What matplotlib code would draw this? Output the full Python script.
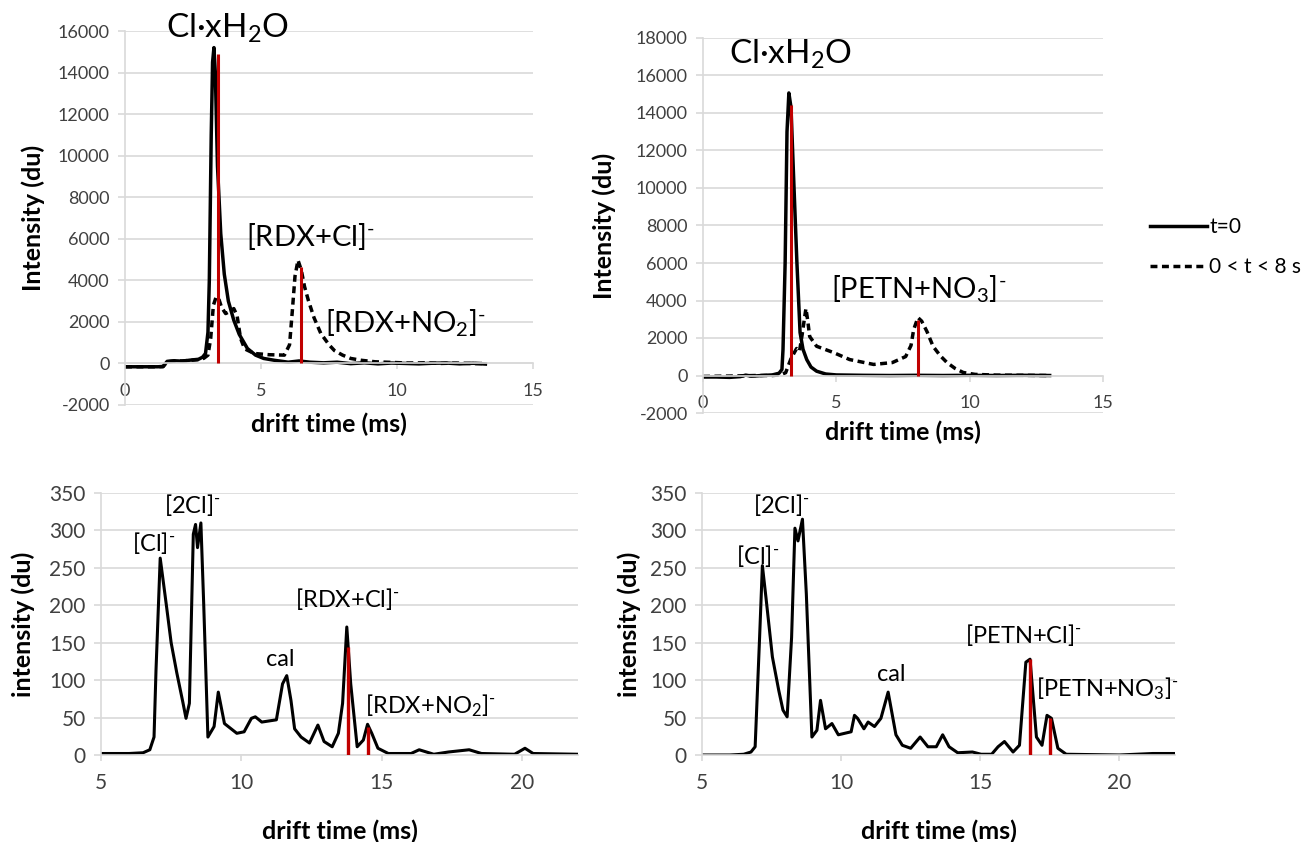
import matplotlib.pyplot as plt
from matplotlib.lines import Line2D

plt.rcParams['font.family'] = ['Lato', 'DejaVu Sans']
plt.rcParams['mathtext.fontset'] = 'custom'
plt.rcParams['mathtext.rm'] = 'Lato'
plt.rcParams['mathtext.it'] = 'Lato:italic'
plt.rcParams['mathtext.bf'] = 'Lato:bold'
plt.rcParams['axes.unicode_minus'] = False

# --- top left: RDX, t=0 vs 0<t<8 s ---
rdx_t0_x = [0, 0.6, 1.2, 1.4, 1.55, 1.8, 2.1, 2.4, 2.7, 2.85, 2.96, 3.05, 3.1, 3.17, 3.22, 3.27,
            3.32, 3.4, 3.52, 3.65, 3.8, 4.0, 4.2, 4.5, 4.8, 5.1, 5.5, 6.0, 6.4, 6.8, 7.3, 7.8,
            8.3, 8.8, 9.3, 9.8, 10.3, 10.8, 11.3, 11.8, 12.3, 12.8, 13.25]
rdx_t0_y = [-160, -160, -160, -150, 100, 130, 110, 160, 200, 300, 480, 1500, 4000, 11000, 14500, 15200,
            14000, 9500, 6250, 4300, 3000, 2080, 1400, 720, 400, 240, 150, 60, 120, 60, 30, 60,
            -10, 30, -20, 20, 0, -20, 10, 20, -20, 10, -30]
rdx_t8_x = [0, 0.6, 1.2, 1.4, 1.55, 1.8, 2.1, 2.4, 2.7, 2.9, 3.05, 3.15, 3.25, 3.35, 3.45, 3.55,
            3.7, 3.85, 4.0, 4.12, 4.25, 4.4, 4.75, 5.3, 5.86, 6.05, 6.15, 6.25, 6.36, 6.48, 6.6,
            6.74, 6.95, 7.2, 7.5, 7.7, 8.0, 8.3, 8.7, 9.2, 9.8, 10.4, 11, 11.6, 12.2, 12.8, 13.25]
rdx_t8_y = [-160, -160, -160, -150, 80, 110, 120, 150, 180, 250, 400, 1200, 2800, 3200, 3100, 2700,
            2400, 2500, 2640, 2300, 1200, 700, 480, 420, 400, 900, 2500, 4200, 4970, 4500, 3700,
            3040, 2200, 1440, 900, 620, 400, 240, 150, 80, 50, 20, 30, 0, 20, -10, 0]
rdx_red_x = [3.42, 6.46]
rdx_red_top = [14900, 4650]

# --- top right: PETN, t=0 vs 0<t<8 s ---
petn_t0_x = [0, 0.5, 1.0, 1.4, 1.6, 1.8, 2.0, 2.3, 2.6, 2.85, 2.96, 3.0, 3.08, 3.15, 3.22, 3.3,
             3.4, 3.52, 3.64, 3.75, 3.89, 4.05, 4.26, 4.6, 5.0, 5.5, 6, 7, 8, 9, 10, 11, 12, 13]
petn_t0_y = [-80, -80, -100, -60, 20, -30, -20, 10, 30, 120, 320, 1380, 6000, 13000, 15070, 14300,
             10500, 6070, 2290, 1400, 850, 450, 230, 80, 30, 20, 10, 0, 10, 0, 10, 0, 10, 0]
petn_t8_x = [0, 1, 2, 2.6, 2.9, 3.1, 3.3, 3.51, 3.62, 3.72, 3.8, 3.86, 3.93, 4.0, 4.26, 4.9, 5.5,
             6.4, 7.1, 7.6, 7.8, 7.9, 8.06, 8.2, 8.4, 8.63, 8.9, 9.15, 9.45, 9.76, 10.2, 11, 12, 13]
petn_t8_y = [-50, -30, 0, 0, 30, 150, 900, 1440, 1300, 2200, 3000, 3570, 2900, 2080, 1560, 1220, 850,
             590, 690, 1010, 1600, 2450, 3090, 2900, 2340, 1550, 1050, 690, 380, 160, 60, 20, 10, 0]
petn_red_x = [3.3, 8.06]
petn_red_top = [14430, 2950]

# --- bottom left: RDX spectrum ---
rdx_sp_x = [5, 6.0, 6.5, 6.74, 6.89, 6.96, 7.11, 7.33, 7.5, 7.7, 7.92, 8.03, 8.15, 8.29, 8.37, 8.44,
            8.56, 8.66, 8.81, 9.03, 9.18, 9.4, 9.84, 10.1, 10.36, 10.5, 10.73, 11.25, 11.47, 11.62,
            11.77, 11.9, 12.13, 12.43, 12.73, 12.95, 13.24, 13.46, 13.61, 13.76, 13.9, 14.13, 14.35,
            14.5, 14.65, 14.87, 15.24, 16.05, 16.34, 16.86, 17.38, 18.12, 18.56, 19.74, 20.11, 20.4, 22]
rdx_sp_y = [2, 2, 3, 7, 24, 113, 263, 200, 150, 110, 70, 49, 69, 295, 308, 277,
            310, 202, 24, 38, 84, 42, 29, 31, 49, 51, 44, 47, 95, 106,
            73, 35, 24, 16, 40, 18, 11, 29, 69, 171, 95, 11, 20,
            41, 29, 9, 2, 2, 7, 1, 4, 7, 2, 1, 9, 2, 1]
rdx_sp_red_x = [13.79, 14.53]
rdx_sp_red_top = [144, 38]

# --- bottom right: PETN spectrum ---
petn_sp_x = [5, 6.0, 6.5, 6.76, 6.91, 7.07, 7.17, 7.3, 7.53, 7.76, 7.91, 8.06, 8.22, 8.34, 8.45,
             8.61, 8.75, 8.95, 9.13, 9.26, 9.44, 9.67, 9.9, 10.36, 10.48, 10.59, 10.82, 10.97, 11.2,
             11.43, 11.69, 11.97, 12.2, 12.5, 12.84, 13.12, 13.42, 13.65, 13.88, 14.19, 14.72, 15.03,
             15.41, 15.64, 15.87, 16.18, 16.41, 16.64, 16.79, 17.02, 17.22, 17.4, 17.56, 17.79, 18.09,
             20, 21.2, 22]
petn_sp_y = [0, 0, 1, 4, 11, 157, 253, 210, 131, 86, 60, 51, 157, 303, 286,
             315, 215, 24, 33, 73, 35, 42, 27, 31, 53, 49, 35, 44, 38,
             49, 84, 27, 13, 9, 24, 11, 11, 27, 11, 3, 4, 1,
             1, 11, 18, 4, 13, 124, 128, 24, 13, 53, 49, 9, 1,
             0, 2, 2]
petn_sp_red_x = [16.79, 17.49]
petn_sp_red_top = [128, 49]

GRID = '#d9d9d9'
TICK = '#404040'
RED = '#c00000'
SUP = r'$^{\text{-}}$'


def style(ax, xlim, xticks, ylim, yticks, zero_axis, size, xpad):
    ax.set_xlim(xlim)
    ax.set_ylim(ylim)
    ax.set_xticks(xticks)
    ax.set_yticks(yticks)
    ax.grid(axis='y', color=GRID, linewidth=1.2)
    ax.set_axisbelow(True)
    for s in ['top', 'right']:
        ax.spines[s].set_visible(False)
    for s in ['left', 'bottom']:
        ax.spines[s].set_color(GRID)
        ax.spines[s].set_linewidth(1.2)
    if zero_axis:
        ax.spines['bottom'].set_position(('data', 0))
    ax.tick_params(axis='y', length=5, width=1.2, color=GRID, pad=6, labelsize=size, labelcolor=TICK)
    ax.tick_params(axis='x', length=4, width=1.2, color=GRID, pad=xpad, labelsize=size, labelcolor=TICK)


fig = plt.figure(figsize=(13.14, 8.42), dpi=100)
W, H = 1314, 842


def box(x0, x1, ytop, ybot):
    return [x0 / W, 1 - ybot / H, (x1 - x0) / W, (ybot - ytop) / H]


dash = (2.0, 1.3)
LW = 2.5
LAB = 18

# top left
ax1 = fig.add_axes(box(125, 533, 31, 405))
ax1.plot(rdx_t8_x, rdx_t8_y, color='black', lw=LW, linestyle=(0, dash))
ax1.plot(rdx_t0_x, rdx_t0_y, color='black', lw=LW)
ax1.vlines(rdx_red_x, 0, rdx_red_top, color=RED, lw=2.2, zorder=3)
style(ax1, (0, 15), [0, 5, 10, 15], (-2000, 16000), range(-2000, 16001, 2000), True, 13, 10)
ax1.set_ylabel('Intensity (du)', fontsize=LAB, fontweight='bold')
ax1.set_xlabel('drift time (ms)', fontsize=LAB, fontweight='bold')
ax1.yaxis.set_label_coords(-0.196, 0.5)
ax1.xaxis.set_label_coords(0.5, -0.02)
ax1.text(3.77, 16100, r'Cl·xH$_2$O', fontsize=24, ha='center', va='center', clip_on=False)
ax1.text(4.44, 6090, '[RDX+Cl]' + SUP, fontsize=21, ha='left', va='center', clip_on=False)
ax1.text(7.35, 1920, r'[RDX+NO$_2$]' + SUP, fontsize=21, ha='left', va='center', clip_on=False)

# top right
ax2 = fig.add_axes(box(703, 1103, 38, 413))
ax2.plot(petn_t8_x, petn_t8_y, color='black', lw=LW, linestyle=(0, dash))
ax2.plot(petn_t0_x, petn_t0_y, color='black', lw=LW)
ax2.vlines(petn_red_x, 0, petn_red_top, color=RED, lw=2.2, zorder=3)
style(ax2, (0, 15), [0, 5, 10, 15], (-2000, 18000), range(-2000, 18001, 2000), True, 13, 10)
ax2.set_ylabel('Intensity (du)', fontsize=LAB, fontweight='bold')
ax2.set_xlabel('drift time (ms)', fontsize=LAB, fontweight='bold')
ax2.yaxis.set_label_coords(-0.2175, 0.5)
ax2.xaxis.set_label_coords(0.5, -0.02)
ax2.text(3.27, 17100, r'Cl·xH$_2$O', fontsize=24, ha='center', va='center', clip_on=False)
ax2.text(4.81, 4580, r'[PETN+NO$_3$]' + SUP, fontsize=21, ha='left', va='center', clip_on=False)

# bottom left
ax3 = fig.add_axes(box(101, 578, 493, 755))
ax3.plot(rdx_sp_x, rdx_sp_y, color='black', lw=2.2)
ax3.vlines(rdx_sp_red_x, 0, rdx_sp_red_top, color=RED, lw=2.4, zorder=3)
style(ax3, (5, 22), [5, 10, 15, 20], (0, 350), range(0, 351, 50), False, 15, 9)
ax3.set_ylabel('intensity (du)', fontsize=LAB, fontweight='bold')
ax3.set_xlabel('drift time (ms)', fontsize=LAB, fontweight='bold')
ax3.yaxis.set_label_coords(-0.138, 0.5)
ax3.xaxis.set_label_coords(0.5, -0.245)
for txt, tx, ty in [('[Cl]' + SUP, 6.1, 283), ('[2Cl]' + SUP, 7.26, 334), ('cal', 10.88, 128),
                    ('[RDX+Cl]' + SUP, 11.91, 208), (r'[RDX+NO$_2$]' + SUP, 14.42, 66)]:
    ax3.text(tx, ty, txt, fontsize=17, ha='left', va='center', clip_on=False)

# bottom right
ax4 = fig.add_axes(box(702, 1175, 493, 755))
ax4.plot(petn_sp_x, petn_sp_y, color='black', lw=2.2)
ax4.vlines(petn_sp_red_x, 0, petn_sp_red_top, color=RED, lw=2.4, zorder=3)
style(ax4, (5, 22), [5, 10, 15, 20], (0, 350), range(0, 351, 50), False, 15, 9)
ax4.set_ylabel('intensity (du)', fontsize=LAB, fontweight='bold')
ax4.set_xlabel('drift time (ms)', fontsize=LAB, fontweight='bold')
ax4.yaxis.set_label_coords(-0.129, 0.5)
ax4.xaxis.set_label_coords(0.5, -0.245)
for txt, tx, ty in [('[Cl]' + SUP, 6.23, 266), ('[2Cl]' + SUP, 6.84, 334), ('cal', 11.28, 108),
                    ('[PETN+Cl]' + SUP, 14.45, 160), (r'[PETN+NO$_3$]' + SUP, 17.02, 89)]:
    ax4.text(tx, ty, txt, fontsize=17, ha='left', va='center', clip_on=False)

# legend
h_solid = Line2D([], [], color='black', lw=LW)
h_dash = Line2D([], [], color='black', lw=LW, linestyle=(0, dash))
fig.legend([h_solid, h_dash], ['t=0', '0 < t < 8 s'], loc='center left',
           bbox_to_anchor=(1150 / W, 1 - 247 / H), frameon=False, fontsize=15,
           handlelength=2.75, handletextpad=0.1, labelspacing=0.95, borderpad=0, borderaxespad=0)

fig.savefig('out.png', dpi=100)
